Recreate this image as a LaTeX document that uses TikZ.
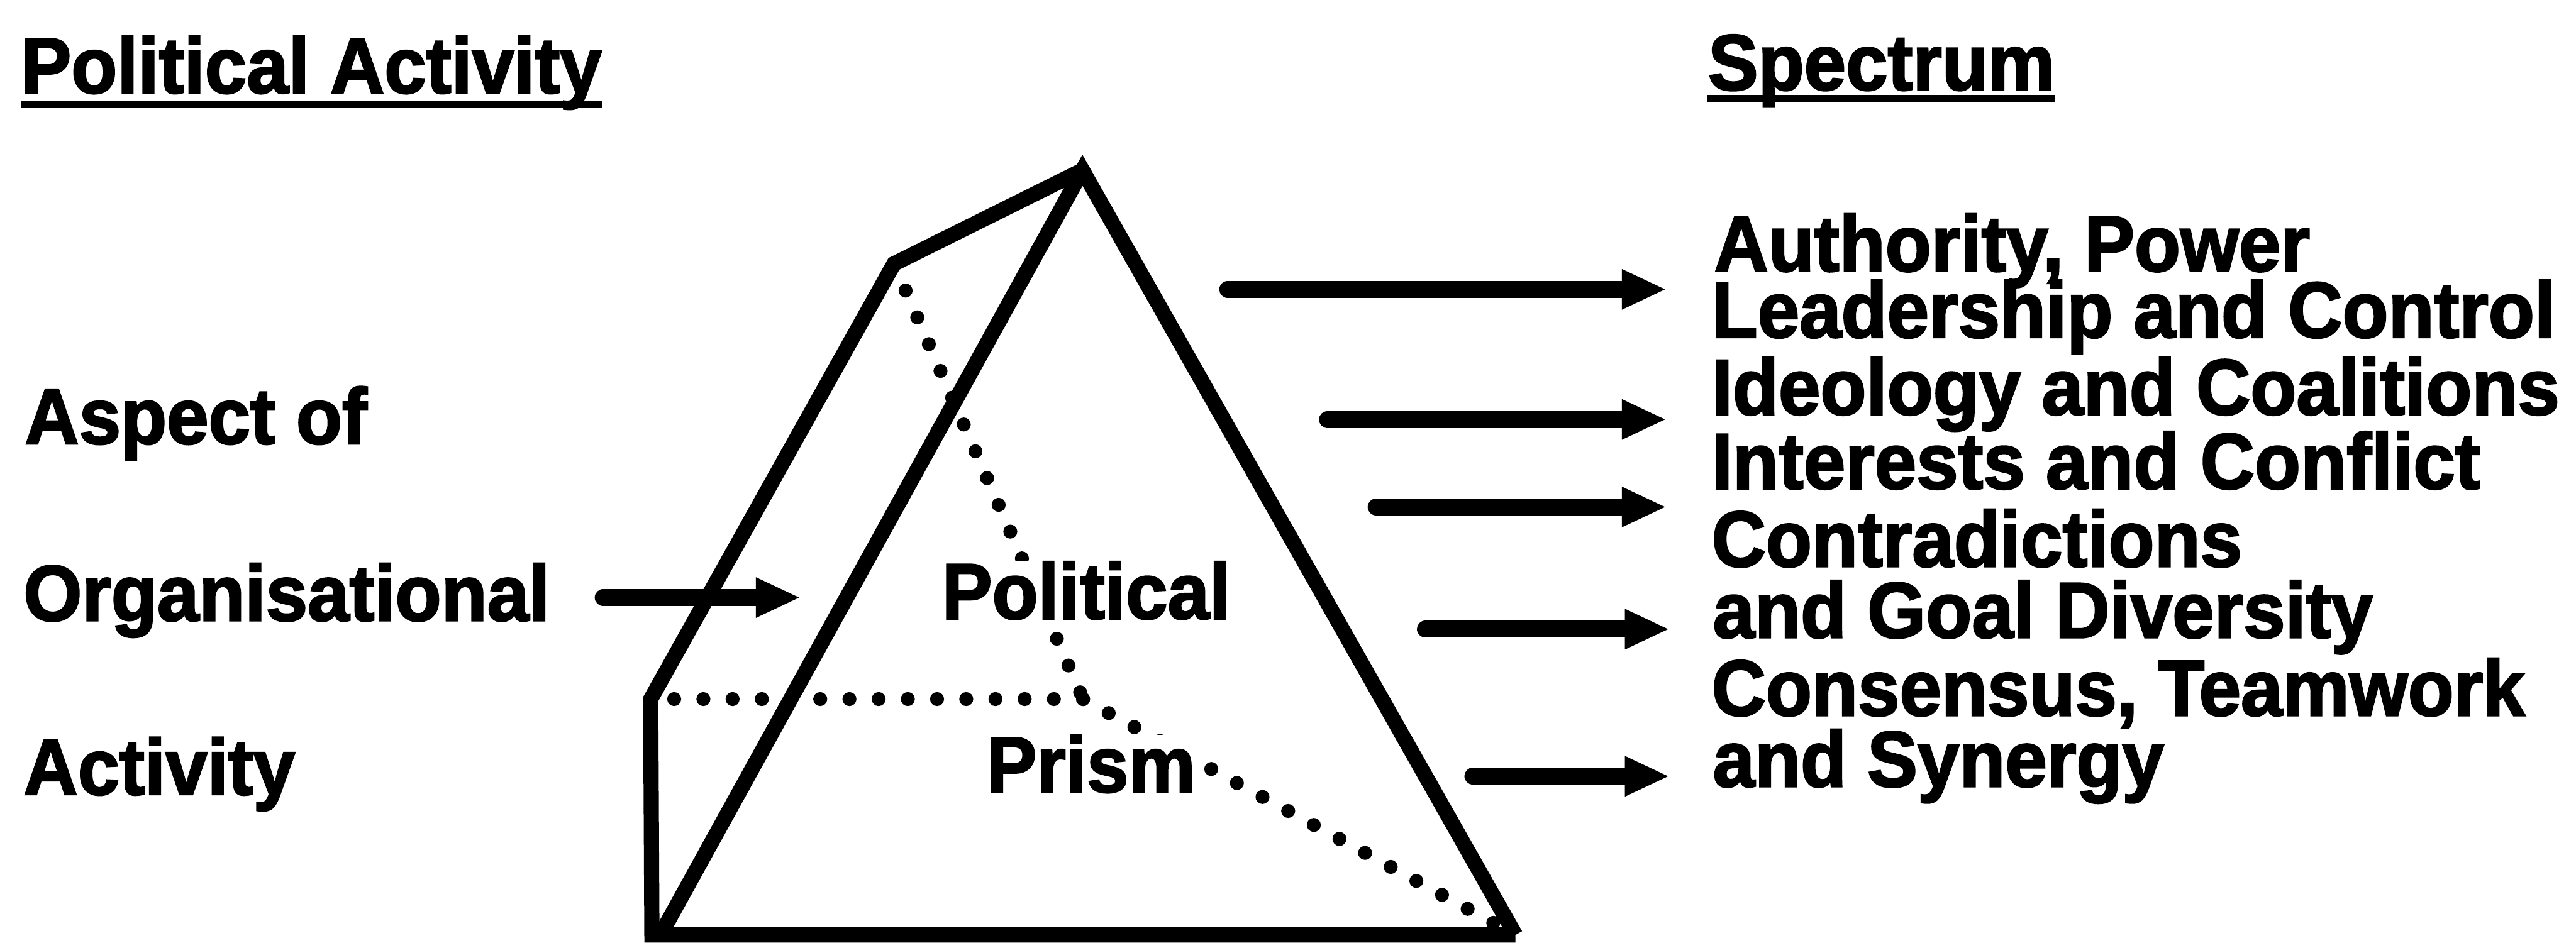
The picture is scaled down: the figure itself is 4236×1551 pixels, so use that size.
\documentclass[tikz,border=0pt]{standalone}
\usepackage{fontspec}
\setmainfont{Liberation Sans}[FakeStretch=0.95,FakeBold=2.2]
\usetikzlibrary{arrows.meta,calc}
\begin{document}
\begin{tikzpicture}[x=0.01cm,y=-0.01cm,
  txt/.style={inner sep=0pt, anchor=base west, font=\fontsize{37pt}{44pt}\selectfont\bfseries},
  inprism/.style={txt, anchor=base, fill=white},
  edge/.style={line width=0.25cm, line join=miter},
  hidden/.style={line width=0.23cm, line cap=round, dash pattern=on 0pt off 0.48cm},
  bigarrow/.style={line width=0.28cm, line cap=round,
    -{Triangle[length=0.71cm,width=0.67cm,line width=0pt]}},
  uline/.style={line width=0.12cm}]
\useasboundingbox (0,0) rectangle (4236,1551);

% prism corners
\coordinate (A)  at (1780,280);   % apex
\coordinate (T)  at (1470,434);   % back top
\coordinate (L)  at (1070,1150);  % back left corner
\coordinate (BL) at (1072,1538);  % bottom left
\coordinate (FL) at (1086,1538);  % front triangle, left foot
\coordinate (BR) at (2492,1538);  % bottom right
\coordinate (H)  at (1781,1150);  % hidden back corner

% hidden edges
\draw[hidden] (T) -- (H);
\draw[hidden] (H) -- (L);
\draw[hidden] (H) -- (BR);

% visible edges
\draw[edge] (A) -- (T) -- (L) -- (BL) -- (BR);
\draw[edge] (FL) -- (A) -- (BR);

% text inside the prism
\node[inprism] (pol) at (1786,1018) {Political};
\node[inprism] (pri) at (1794,1303) {Prism};

% headings
\node[txt] (ttl1) at (34,153) {Political Activity};
\node[txt] (ttl2) at (2808,148) {Spectrum};
\draw[uline] ($(ttl1.base west)+(0,18)$) -- ($(ttl1.base east)+(0,18)$);
\draw[uline] ($(ttl2.base west)+(0,14)$) -- ($(ttl2.base east)+(0,14)$);

% left column
\node[txt] (asp) at (40,730)  {Aspect of};
\node[txt] (org) at (38,1021) {Organisational};
\node[txt] (act) at (38,1307) {Activity};

% right column
\node[txt] (r1) at (2818,446)  {Authority, Power};
\node[txt] (r2) at (2814,555)  {Leadership and Control};
\node[txt] (r3) at (2814,682)  {Ideology and Coalitions};
\node[txt] (r4) at (2814,804)  {Interests and Conflict};
\node[txt] (r5) at (2814,932)  {Contradictions};
\node[txt] (r6) at (2816,1049) {and Goal Diversity};
\node[txt] (r7) at (2814,1177) {Consensus, Teamwork};
\node[txt] (r8) at (2816,1294) {and Synergy};

% arrows
\coordinate (o1) at (992,983);   \coordinate (o2) at (1314,983);
\coordinate (s1) at (2019,476);  \coordinate (e1) at (2738,476);
\coordinate (s2) at (2183,690);  \coordinate (e2) at (2738,690);
\coordinate (s3) at (2263,834);  \coordinate (e3) at (2738,834);
\coordinate (s4) at (2344,1035); \coordinate (e4) at (2743,1035);
\coordinate (s5) at (2422,1277); \coordinate (e5) at (2743,1277);
\draw[bigarrow] (o1) -- (o2);
\draw[bigarrow] (s1) -- (e1);
\draw[bigarrow] (s2) -- (e2);
\draw[bigarrow] (s3) -- (e3);
\draw[bigarrow] (s4) -- (e4);
\draw[bigarrow] (s5) -- (e5);
\end{tikzpicture}
\end{document}
